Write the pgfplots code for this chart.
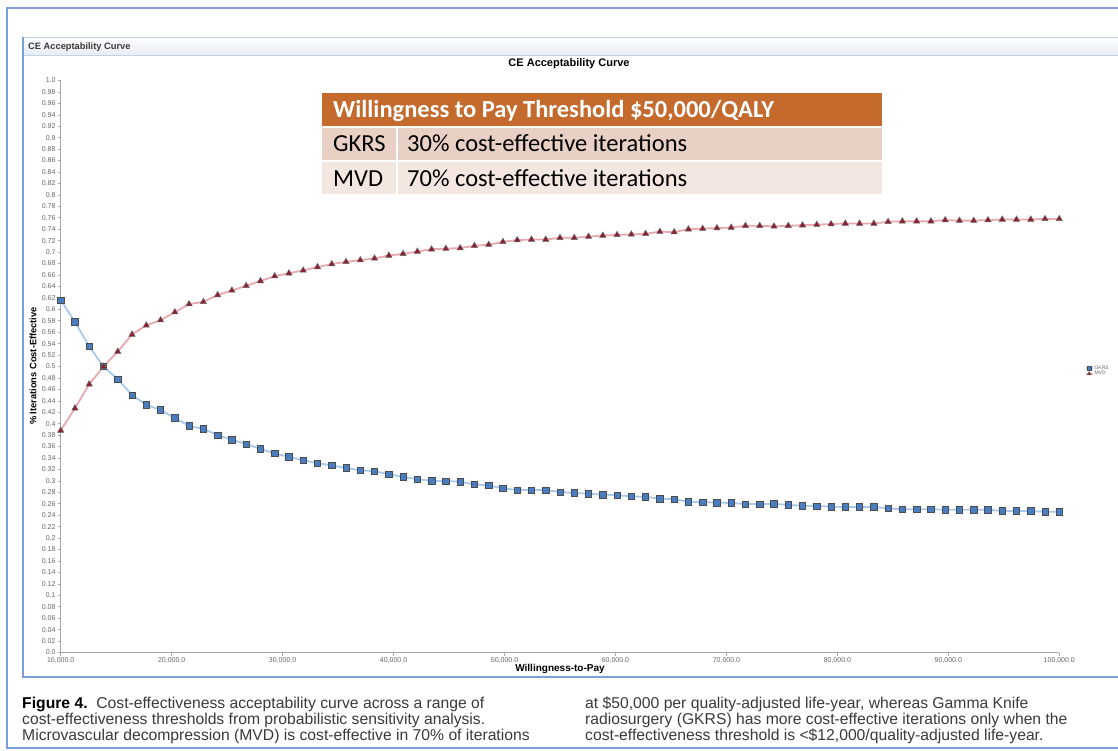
\documentclass[border=0pt]{standalone}
\usepackage{fontspec}
\setmainfont{Liberation Sans}
\newfontfamily\tabfont{Carlito}
\usepackage{pgfplots}
\pgfplotsset{compat=1.18}
\usepackage{pgfplotstable}

\definecolor{frameblue}{HTML}{7B9DD8}
\definecolor{hdrorange}{HTML}{C46A2D}
\definecolor{rowa}{HTML}{E9D0C5}
\definecolor{rowb}{HTML}{F4E6E0}
\definecolor{gkrsline}{HTML}{A9C9EA}
\definecolor{gkrsfill}{HTML}{4A7DBF}
\definecolor{mvdline}{HTML}{E9A8B0}
\definecolor{mvdfill}{HTML}{8E1F30}
\definecolor{axgray}{HTML}{A6A6A6}
\definecolor{tickgray}{HTML}{666666}
\definecolor{capgray}{HTML}{3A3A3A}
\definecolor{hdrshade}{HTML}{E6ECF4}
\definecolor{hdrline}{HTML}{C5D2E6}

\pgfplotstableread{
x g m
10000   0.616  0.388
11285.7 0.578  0.427
12571.4 0.535  0.469
13857.1 0.500  0.500
15142.9 0.478  0.526
16428.6 0.450  0.556
17714.3 0.433  0.572
19000   0.424  0.581
20285.7 0.410  0.595
21571.4 0.396  0.609
22857.1 0.391  0.613
24142.9 0.380  0.625
25428.6 0.372  0.633
26714.3 0.3645 0.641
28000   0.356  0.6495
29285.7 0.348  0.658
30571.4 0.342  0.663
31857.1 0.336  0.668
33142.9 0.331  0.674
34428.6 0.327  0.679
35714.3 0.3226 0.683
37000   0.3185 0.686
38285.7 0.317  0.689
39571.4 0.3115 0.694
40857.1 0.307  0.697
42142.9 0.303  0.701
43428.6 0.300  0.705
44714.3 0.2998 0.706
46000   0.2986 0.707
47285.7 0.294  0.711
48571.4 0.292  0.713
49857.1 0.287  0.718
51142.9 0.284  0.721
52428.6 0.284  0.722
53714.3 0.284  0.722
55000   0.2806 0.725
56285.7 0.279  0.725
57571.4 0.2776 0.727
58857.1 0.276  0.729
60142.9 0.275  0.730
61428.6 0.273  0.731
62714.3 0.272  0.732
64000   0.269  0.7357
65285.7 0.268  0.735
66571.4 0.2636 0.740
67857.1 0.263  0.741
69142.9 0.262  0.742
70428.6 0.2614 0.743
71714.3 0.2596 0.746
73000   0.2596 0.746
74285.7 0.260  0.745
75571.4 0.258  0.746
76857.1 0.2566 0.747
78142.9 0.256  0.748
79428.6 0.255  0.749
80714.3 0.2544 0.750
82000   0.2544 0.750
83285.7 0.2544 0.750
84571.4 0.252  0.753
85857.1 0.2503 0.754
87142.9 0.2503 0.754
88428.6 0.2503 0.754
89714.3 0.2497 0.756
91000   0.2497 0.755
92285.7 0.2497 0.755
93571.4 0.2497 0.756
94857.1 0.2474 0.757
96142.9 0.2474 0.757
97428.6 0.2474 0.757
98714.3 0.246  0.758
100000  0.246  0.758
}\ceac

\begin{document}
\begin{tikzpicture}[x=1pt,y=1pt]
\useasboundingbox (0,0) rectangle (1118,-750);
\fill[white] (0,0) rectangle (1118,-750);
% outer frame
\draw[frameblue, line width=2.5pt] (1120,-8) -- (7,-8) -- (7,-748) -- (1120,-748);
% inner panel header band
\shade[top color=white, bottom color=hdrshade] (23,-37) rectangle (1118,-55);
\draw[hdrline, line width=0.8pt] (23,-37) -- (1118,-37);
\draw[hdrline, line width=1pt] (23,-55) -- (1118,-55);
\draw[frameblue, line width=2.5pt] (23,-37) -- (23,-677) -- (1120,-677);
\node[anchor=west, inner sep=0, font=\fontsize{9.3}{11}\selectfont\bfseries, text=capgray] at (28,-47) {CE Acceptability Curve};

% chart title and labels
\node[anchor=center, inner sep=0, font=\fontsize{11}{13}\selectfont\bfseries] at (569,-64) {CE Acceptability Curve};
\node[anchor=center, inner sep=0, rotate=90, font=\fontsize{9.3}{11}\selectfont\bfseries] at (33,-366) {\% Iterations Cost-Effective};
\node[anchor=center, inner sep=0, font=\fontsize{10}{12}\selectfont\bfseries] at (560,-669) {Willingness-to-Pay};

\begin{axis}[
  at={(60.7pt,-652.5pt)}, anchor=south west,
  scale only axis, width=998.6pt, height=572pt,
  xmin=10000, xmax=100000, ymin=0, ymax=1,
  axis lines=left,
  axis line style={-, draw=axgray, line width=1.5pt},
  clip=false,
  scaled x ticks=false, scaled y ticks=false,
  tick align=outside,
  major tick length=3pt,
  tick style={axgray, line width=0.6pt},
  xtick={10000,20000,30000,40000,50000,60000,70000,80000,90000,100000},
  xticklabels={{10,000.0},{20,000.0},{30,000.0},{40,000.0},{50,000.0},{60,000.0},{70,000.0},{80,000.0},{90,000.0},{100,000.0}},
  ytick={0,0.02,0.04,0.06,0.08,0.1,0.12,0.14,0.16,0.18,0.2,0.22,0.24,0.26,0.28,0.3,0.32,0.34,0.36,0.38,0.4,0.42,0.44,0.46,0.48,0.5,0.52,0.54,0.56,0.58,0.6,0.62,0.64,0.66,0.68,0.7,0.72,0.74,0.76,0.78,0.8,0.82,0.84,0.86,0.88,0.9,0.92,0.94,0.96,0.98,1},
  yticklabels={0.0,0.02,0.04,0.06,0.08,0.1,0.12,0.14,0.16,0.18,0.2,0.22,0.24,0.26,0.28,0.3,0.32,0.34,0.36,0.38,0.4,0.42,0.44,0.46,0.48,0.5,0.52,0.54,0.56,0.58,0.6,0.62,0.64,0.66,0.68,0.7,0.72,0.74,0.76,0.78,0.8,0.82,0.84,0.86,0.88,0.9,0.92,0.94,0.96,0.98,1.0},
  xticklabel style={font=\fontsize{7}{8}\selectfont, text=tickgray, inner sep=2pt},
  yticklabel style={font=\fontsize{7}{8}\selectfont, text=tickgray, inner sep=2pt},
  legend style={at={(1.026,0.492)}, anchor=west, draw=none, fill=none,
    font=\fontsize{5}{6}\selectfont, text=tickgray, row sep=-1.5pt, inner sep=0pt,
    nodes={inner sep=1pt}},
  legend cell align=left,
  legend image code/.code={\path (0,0) -- (0.22cm,0); \draw[#1, mark size=2.2pt] plot coordinates {(0.1cm,0cm)};},
]
\addplot[color=gkrsline, line width=1.8pt, mark=square*, mark size=3.2pt,
  mark options={fill=gkrsfill, draw=black!70, line width=0.6pt}] table[x=x, y=g] {\ceac};
\addlegendentry{GKRS}
\addplot[color=mvdline, line width=1.8pt, mark=triangle*, mark size=3.6pt,
  mark options={fill=mvdfill, draw=black!60, line width=0.5pt}] table[x=x, y=m] {\ceac};
\addlegendentry{MVD}
\end{axis}

% table overlay
\fill[hdrorange] (322,-93) rectangle (882,-125.5);
\fill[rowa] (322,-127.5) rectangle (882,-160);
\fill[rowb] (322,-162) rectangle (882,-194);
\draw[white, line width=2pt] (397,-126) -- (397,-194);
\node[anchor=base west, inner sep=0, font=\tabfont\fontsize{24.5}{28}\selectfont\bfseries, text=white] at (333,-117) {Willingness to Pay Threshold \$50,000/QALY};
\node[anchor=base west, inner sep=0, font=\tabfont\fontsize{24.5}{28}\selectfont] at (333,-151) {GKRS};
\node[anchor=base west, inner sep=0, font=\tabfont\fontsize{24.5}{28}\selectfont] at (407,-151) {30\% cost-effective iterations};
\node[anchor=base west, inner sep=0, font=\tabfont\fontsize{24.5}{28}\selectfont] at (333,-186) {MVD};
\node[anchor=base west, inner sep=0, font=\tabfont\fontsize{24.5}{28}\selectfont] at (407,-186) {70\% cost-effective iterations};

% caption
\begin{scope}[every node/.style={anchor=base west, inner sep=0, font=\fontsize{15.7}{16}\selectfont, text=capgray}]
\node at (22,-708) {\textbf{\color{black}Figure 4.}\ \ Cost-effectiveness acceptability curve across a range of};
\node at (22,-724) {cost-effectiveness thresholds from probabilistic sensitivity analysis.};
\node at (22,-740) {Microvascular decompression (MVD) is cost-effective in 70\% of iterations};
\node at (585,-708) {at \$50,000 per quality-adjusted life-year, whereas Gamma Knife};
\node at (585,-724) {radiosurgery (GKRS) has more cost-effective iterations only when the};
\node at (585,-740) {cost-effectiveness threshold is <\$12,000/quality-adjusted life-year.};
\end{scope}
\end{tikzpicture}
\end{document}
